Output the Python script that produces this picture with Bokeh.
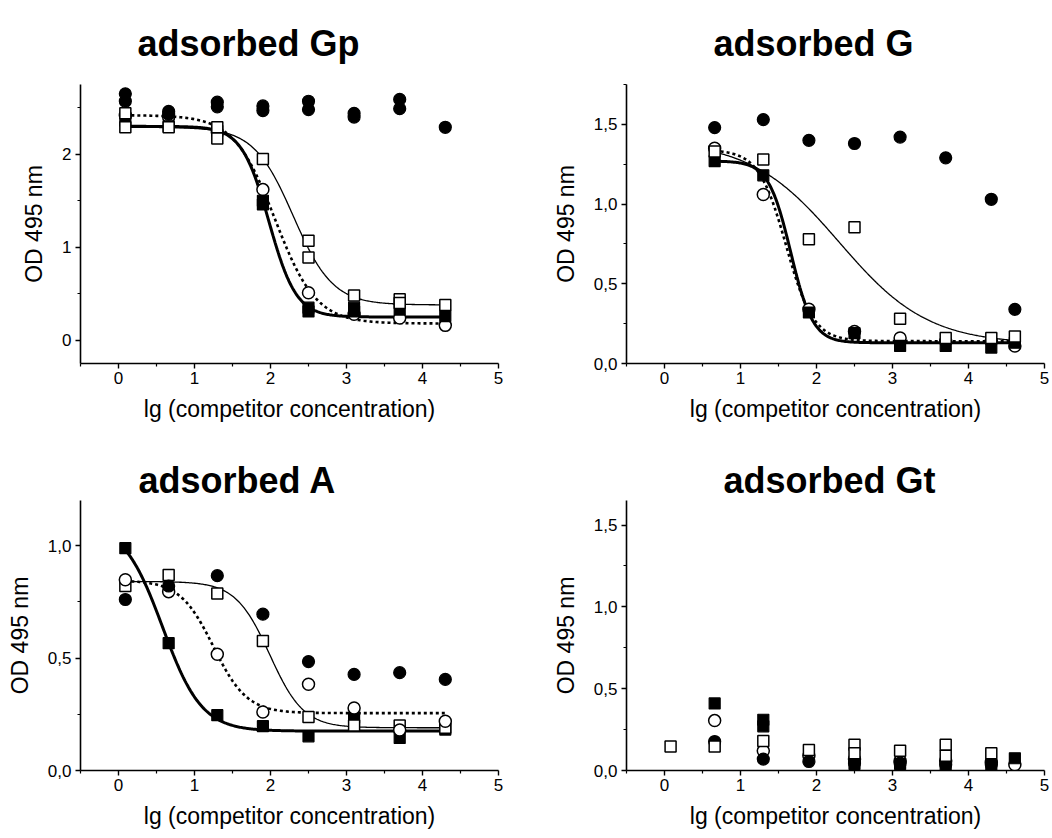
import numpy as np
from bokeh.plotting import figure
from bokeh.layouts import column, row
from bokeh.models import FixedTicker, Range1d, CustomJSTickFormatter
from bokeh.embed import file_html
from bokeh.resources import INLINE

FONT = "Liberation Sans"

# ---------------- data ----------------
X_LEFT = [0.09, 0.66, 1.30, 1.90, 2.50, 3.10, 3.70, 4.30]
X_RIGHT = [0.66, 1.30, 1.90, 2.50, 3.10, 3.70, 4.30, 4.61]
X_TICKS = [0, 1, 2, 3, 4, 5]
X_MINOR = [-0.5, 0.5, 1.5, 2.5, 3.5, 4.5]

# adsorbed Gp
GP_FC_X = [0.09, 0.09, 0.66, 0.66, 1.30, 1.30, 1.90, 1.90, 2.50, 2.50, 3.10, 3.10, 3.70, 3.70, 4.30]
GP_FC_Y = [2.65, 2.57, 2.46, 2.43, 2.56, 2.51, 2.52, 2.47, 2.57, 2.48, 2.44, 2.40, 2.59, 2.49, 2.29]
GP_OC_X = X_LEFT
GP_OC_Y = [2.42, 2.40, 2.24, 1.62, 0.51, 0.28, 0.24, 0.16]
GP_FS_X = [0.09, 0.66, 1.30, 1.90, 1.90, 2.50, 2.50, 3.10, 3.10, 3.70, 4.30]
GP_FS_Y = [2.36, 2.30, 2.25, 1.50, 1.46, 0.35, 0.31, 0.35, 0.31, 0.33, 0.26]
GP_OS_X = [0.09, 0.09, 0.66, 1.30, 1.30, 1.90, 2.50, 2.50, 3.10, 3.70, 3.70, 4.30]
GP_OS_Y = [2.44, 2.29, 2.29, 2.29, 2.17, 1.95, 1.07, 0.89, 0.48, 0.44, 0.40, 0.38]
# Boltzmann fits: [filled squares (thick), open circles (dotted), open squares (thin)]
GP_FIT_TOP = [2.30, 2.42, 2.29]
GP_FIT_BOTTOM = [0.25, 0.18, 0.38]
GP_FIT_X0 = [1.98, 2.06, 2.30]
GP_FIT_DX = [0.18, 0.27, 0.26]

# adsorbed G
G_FC_Y = [1.48, 1.53, 1.40, 1.38, 1.42, 1.29, 1.03, 0.34]
G_OC_Y = [1.35, 1.06, 0.34, 0.20, 0.16, 0.14, 0.14, 0.11]
G_FS_Y = [1.27, 1.18, 0.32, 0.19, 0.11, 0.11, 0.10, 0.13]
G_OS_Y = [1.33, 1.28, 0.78, 0.855, 0.28, 0.16, 0.16, 0.17]
G_FIT_TOP = [1.27, 1.34, 1.40]
G_FIT_BOTTOM = [0.13, 0.14, 0.12]
G_FIT_X0 = [1.66, 1.60, 2.30]
G_FIT_DX = [0.147, 0.18, 0.585]

# adsorbed A
A_FC_Y = [0.76, 0.82, 0.866, 0.695, 0.484, 0.427, 0.435, 0.405]
A_OC_Y = [0.848, 0.795, 0.517, 0.26, 0.383, 0.278, 0.18, 0.219]
A_FS_Y = [0.988, 0.566, 0.246, 0.197, 0.152, 0.234, 0.145, 0.182]
A_OS_Y = [0.82, 0.869, 0.787, 0.576, 0.238, 0.20, 0.20, 0.19]
A_FIT_TOP = [1.10, 0.845, 0.84]
A_FIT_BOTTOM = [0.175, 0.255, 0.19]
A_FIT_X0 = [0.58, 1.25, 1.99]
A_FIT_DX = [0.258, 0.22, 0.223]

# adsorbed Gt (no fits)
GT_OS_X = [0.08, 0.66, 1.30, 1.90, 2.50, 2.50, 3.10, 3.70, 3.70, 4.30]
GT_OS_Y = [0.146, 0.146, 0.18, 0.126, 0.157, 0.106, 0.12, 0.157, 0.09, 0.106]
GT_OC_X = [0.66, 1.30, 1.90, 2.50, 3.10, 3.70, 4.30, 4.61]
GT_OC_Y = [0.305, 0.12, 0.09, 0.07, 0.06, 0.06, 0.05, 0.035]
GT_FC_X = [0.66, 1.30, 1.90, 2.50, 3.10, 3.70, 4.30]
GT_FC_Y = [0.177, 0.07, 0.055, 0.045, 0.045, 0.035, 0.035]
GT_FS_X = [0.66, 1.30, 1.30, 2.50, 3.10, 3.70, 4.30, 4.61]
GT_FS_Y = [0.41, 0.31, 0.27, 0.04, 0.04, 0.03, 0.035, 0.075]


def boltzmann(xs, top, bottom, x0, dx):
    return bottom + (top - bottom) / (1.0 + np.exp((xs - x0) / dx))


CURVE_STYLES = [
    dict(line_width=3.0),
    dict(line_width=2.6, line_dash="3 3"),
    dict(line_width=1.3),
]

MARKERS = {
    "fc": dict(marker="circle", size=12, fill_color="black", line_color="black", line_width=1.2),
    "oc": dict(marker="circle", size=12, fill_color="white", line_color="black", line_width=1.5),
    "fs": dict(marker="square", size=11, fill_color="black", line_color="black", line_width=1.2),
    "os": dict(marker="square", size=11, fill_color="white", line_color="black", line_width=1.5),
}


def make_panel(title, width, height, bl, br, bt, bb, y_lim, y_major, y_minor, fmt,
               series, order, fits, fit_range, title_offset, title_standoff):
    p = figure(width=width, height=height, output_backend="svg", toolbar_location=None,
               x_range=Range1d(-0.5, 5), y_range=Range1d(y_lim[0], y_lim[1]),
               min_border_left=bl, min_border_right=br, min_border_top=bt, min_border_bottom=bb,
               title=title)
    p.outline_line_color = None
    p.xgrid.visible = False
    p.ygrid.visible = False
    p.background_fill_color = "white"
    p.border_fill_color = "white"

    p.title.align = "left"
    p.title.offset = title_offset
    p.title.standoff = title_standoff
    p.title.text_font = FONT
    p.title.text_font_size = "36px"
    p.title.text_font_style = "bold"
    p.title.text_color = "black"

    p.xaxis.ticker = FixedTicker(ticks=X_TICKS, minor_ticks=X_MINOR)
    p.xaxis.formatter = CustomJSTickFormatter(code="return tick.toFixed(0);")
    p.yaxis.ticker = FixedTicker(ticks=y_major, minor_ticks=y_minor)
    p.yaxis.formatter = CustomJSTickFormatter(code=fmt)
    p.xaxis.axis_label = "lg (competitor concentration)"
    p.yaxis.axis_label = "OD 495 nm"
    for ax in (p.xaxis[0], p.yaxis[0]):
        ax.axis_line_width = 1.6
        ax.axis_line_color = "black"
        ax.major_tick_line_width = 1.4
        ax.minor_tick_line_width = 1.2
        ax.major_tick_out = 5
        ax.major_tick_in = 0
        ax.minor_tick_out = 3
        ax.minor_tick_in = 0
        ax.major_label_text_font = FONT
        ax.major_label_text_font_size = "17px"
        ax.major_label_text_color = "black"
        ax.axis_label_text_font = FONT
        ax.axis_label_text_font_size = "23px"
        ax.axis_label_text_font_style = "normal"
        ax.axis_label_text_color = "black"
    p.xaxis.major_label_standoff = 3
    p.xaxis.axis_label_standoff = 9
    p.yaxis.major_label_standoff = 4
    p.yaxis.axis_label_standoff = 12

    if fits is not None:
        xs = np.linspace(fit_range[0], fit_range[1], 300)
        tops, bottoms, x0s, dxs = fits
        for i, st in enumerate(CURVE_STYLES):
            p.line(xs, boltzmann(xs, tops[i], bottoms[i], x0s[i], dxs[i]), line_color="black", **st)

    for key in order:
        xs, ys = series[key]
        p.scatter(xs, ys, **MARKERS[key])
    return p


p_gp = make_panel(
    "adsorbed Gp", 526, 446, 80, 28, 83, 83, (-0.25, 2.75), [0, 1, 2], [-0.5, 0.5, 1.5, 2.5],
    "return tick.toFixed(0);",
    {"fc": (GP_FC_X, GP_FC_Y), "oc": (GP_OC_X, GP_OC_Y), "fs": (GP_FS_X, GP_FS_Y), "os": (GP_OS_X, GP_OS_Y)},
    ["oc", "fs", "os", "fc"],
    (GP_FIT_TOP, GP_FIT_BOTTOM, GP_FIT_X0, GP_FIT_DX), (X_LEFT[0], X_LEFT[-1]), 57, 41)

p_g = make_panel(
    "adsorbed G", 526, 446, 100, 8, 83, 83, (0, 1.75), [0, 0.5, 1.0, 1.5], [0.25, 0.75, 1.25, 1.75],
    "return tick.toFixed(1).replace('.', ',');",
    {"fc": (X_RIGHT, G_FC_Y), "oc": (X_RIGHT, G_OC_Y), "fs": (X_RIGHT, G_FS_Y), "os": (X_RIGHT, G_OS_Y)},
    ["oc", "fs", "os", "fc"],
    (G_FIT_TOP, G_FIT_BOTTOM, G_FIT_X0, G_FIT_DX), (X_RIGHT[0], X_RIGHT[-1]), 87, 41)

p_a = make_panel(
    "adsorbed A", 526, 392, 80, 28, 54, 68, (0, 1.2), [0, 0.5, 1.0], [0.25, 0.75],
    "return tick.toFixed(1).replace('.', ',');",
    {"fc": (X_LEFT, A_FC_Y), "oc": (X_LEFT, A_OC_Y), "fs": (X_LEFT, A_FS_Y), "os": (X_LEFT, A_OS_Y)},
    ["fs", "os", "oc", "fc"],
    (A_FIT_TOP, A_FIT_BOTTOM, A_FIT_X0, A_FIT_DX), (X_LEFT[0], X_LEFT[-1]), 58, 0)

p_gt = make_panel(
    "adsorbed Gt", 526, 392, 100, 8, 54, 68, (0, 1.65), [0, 0.5, 1.0, 1.5], [0.25, 0.75, 1.25],
    "return tick.toFixed(1).replace('.', ',');",
    {"fc": (GT_FC_X, GT_FC_Y), "oc": (GT_OC_X, GT_OC_Y), "fs": (GT_FS_X, GT_FS_Y), "os": (GT_OS_X, GT_OS_Y)},
    ["oc", "fs", "fc", "os"],
    None, None, 97, 0)

layout = column(row(p_gp, p_g), row(p_a, p_gt))
open("out.html", "w").write(file_html(layout, INLINE))
